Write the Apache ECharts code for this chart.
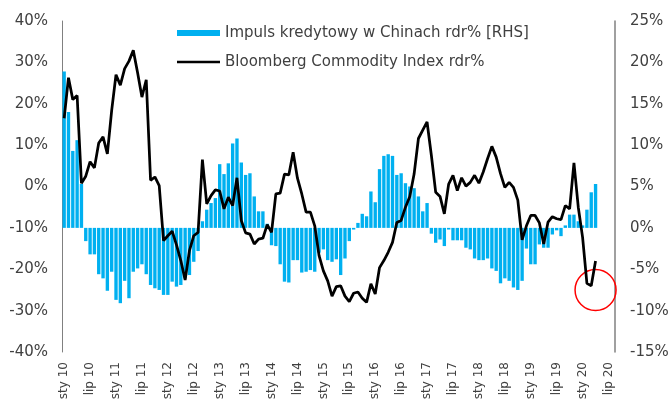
<!DOCTYPE html>
<html>
<head>
<meta charset="utf-8">
<script src="https://cdn.jsdelivr.net/npm/echarts@6/dist/echarts.min.js"></script>
<style>
html,body{margin:0;padding:0;background:#fff;}
#wykres{width:671px;height:403px;}
</style>
</head>
<body>
<div id="wykres"></div>
<script>
//skroty miesiecy na osi X
var miesiace=['sty','lut','mar','kwi','maj','cze','lip','sie','wrz','paź','lis','gru'];
var kategorie=[];
for(var r=10;r<=20;r++){
	for(var m=0;m<12;m++){
		kategorie.push(miesiace[m]+' '+r);
	}
}
//sty 10 - sie 20
kategorie=kategorie.slice(0,128);

//Impuls kredytowy w Chinach rdr% [RHS] (prawa os)
var impuls=[
	18.9,14.0,9.3,10.6,5.3,-1.6,-3.2,-3.2,-5.6,-6.1,-7.6,-5.3,
	-8.7,-9.1,-6.4,-8.5,-5.3,-4.9,-4.4,-5.6,-6.9,-7.3,-7.5,-8.1,
	-8.1,-6.5,-7.1,-6.9,-6.1,-5.7,-4.1,-2.8,0.8,2.2,3.0,3.6,
	7.7,6.5,7.8,10.2,10.8,7.9,6.4,6.6,3.8,2.0,2.0,0.5,
	-2.1,-2.2,-4.4,-6.5,-6.6,-3.9,-3.9,-5.4,-5.3,-5.1,-5.3,-3.0,
	-2.6,-3.9,-4.1,-3.8,-5.7,-3.7,-1.6,-0.2,0.6,1.7,1.4,4.4,
	3.1,7.1,8.7,8.9,8.7,6.4,6.6,5.4,5.0,4.8,3.8,2.0,
	3.0,-0.7,-1.8,-1.4,-2.2,-0.2,-1.5,-1.5,-1.5,-2.4,-2.6,-3.7,
	-3.9,-3.9,-3.7,-4.9,-5.2,-6.7,-6.1,-6.4,-7.2,-7.5,-6.4,-2.5,
	-4.4,-4.4,-2.0,-2.4,-2.4,-0.8,-0.3,-1.0,0.3,1.6,1.6,0.8,
	0.3,2.2,4.3,5.3
];
//Bloomberg Commodity Index rdr% (lewa os)
var bcom=[
	16.5,26.3,21.0,22.0,0.8,2.5,6.0,4.5,10.5,12.0,7.9,18.4,
	27.0,24.5,28.5,30.3,32.9,27.5,21.6,25.8,1.5,2.3,0.2,-13.1,
	-11.9,-10.8,-14.1,-17.9,-22.6,-15.5,-11.9,-11.1,6.5,-4.2,-2.2,-0.8,
	-1.1,-5.4,-2.6,-4.6,2.1,-8.2,-11.2,-11.5,-13.9,-12.7,-12.5,-9.2,
	-11.1,-1.8,-1.6,3.0,2.8,8.3,2.0,-1.8,-6.2,-6.2,-9.5,-16.7,
	-20.4,-22.8,-26.5,-24.2,-24.0,-26.5,-27.8,-25.8,-25.5,-27.0,-28.0,-23.5,
	-26.0,-19.6,-17.9,-15.9,-13.5,-8.7,-8.2,-5.0,-2.4,3.0,11.6,13.6,
	15.6,7.5,-1.4,-2.4,-6.6,0.6,2.7,-1.0,2.1,0.1,1.0,2.7,
	0.8,3.5,6.7,9.7,7.1,3.1,-0.2,1.0,-0.2,-3.3,-12.9,-9.5,
	-7.0,-7.0,-8.8,-13.9,-8.6,-7.3,-7.8,-8.0,-4.6,-5.4,5.7,-5.0,
	-12.3,-23.4,-24.0,-18.0
];
//zakresy osi
var lewaOs={min:-40,max:40,interval:10};
var prawaOs={min:-15,max:25,interval:5};
//zaznaczenie (czerwone kolko) na koncu linii
var kolko={kat:123,wartosc:-25};

var czcionka='DejaVu Sans';
var szary='#404040';

var myChart=echarts.init(document.getElementById('wykres'));
var option={
	animation:false,
	textStyle:{fontFamily:czcionka},
	grid:{left:62,right:56,top:21,bottom:51,outerBoundsMode:'none',containLabel:false},
	legend:{
		orient:'vertical',
		left:172,
		top:20,
		itemWidth:43,
		itemHeight:6,
		itemGap:13,
		textStyle:{color:szary,fontSize:15,fontFamily:czcionka,lineHeight:16},
		data:[
			{name:'Impuls kredytowy w Chinach rdr% [RHS]',icon:'rect'},
			//sama linia, bez kropki
			{name:'Bloomberg Commodity Index rdr%',icon:'path://M0,0L100,0L100,5.5L0,5.5Z'}
		]
	},
	xAxis:[{
		type:'category',
		data:kategorie,
		boundaryGap:true,
		axisLine:{show:false},
		axisTick:{show:false},
		splitLine:{show:false},
		axisLabel:{
			interval:5,
			rotate:90,
			margin:10,
			color:szary,
			fontSize:12,
			fontFamily:czcionka
		}
	}],
	yAxis:[
		{
			type:'value',
			min:lewaOs.min,
			max:lewaOs.max,
			interval:lewaOs.interval,
			position:'left',
			axisLine:{show:true,lineStyle:{color:'#808080',width:1}},
			axisTick:{show:false},
			splitLine:{show:false},
			axisLabel:{formatter:'{value}%',color:szary,fontSize:15,margin:14,fontFamily:czcionka}
		},
		{
			type:'value',
			min:prawaOs.min,
			max:prawaOs.max,
			interval:prawaOs.interval,
			position:'right',
			axisLine:{show:true,lineStyle:{color:'#808080',width:1.5}},
			axisTick:{show:false},
			splitLine:{show:false},
			axisLabel:{formatter:'{value}%',color:szary,fontSize:15,margin:15,fontFamily:czcionka}
		}
	],
	series:[
		{
			name:'Impuls kredytowy w Chinach rdr% [RHS]',
			type:'bar',
			yAxisIndex:1,
			barCategoryGap:'22%',
			itemStyle:{color:'#00b0f0'},
			data:impuls
		},
		{
			name:'Bloomberg Commodity Index rdr%',
			type:'line',
			yAxisIndex:0,
			symbol:'none',
			showSymbol:false,
			z:5,
			itemStyle:{color:'#000000'},
			lineStyle:{color:'#000000',width:2.75},
			data:bcom,
			markPoint:{
				silent:true,
				symbol:'circle',
				symbolSize:41,
				label:{show:false},
				itemStyle:{color:'rgba(0,0,0,0)',borderColor:'#ff0000',borderWidth:1.5},
				data:[{coord:[kategorie[kolko.kat],kolko.wartosc]}]
			}
		}
	]
};
myChart.setOption(option);
</script>
</body>
</html>
